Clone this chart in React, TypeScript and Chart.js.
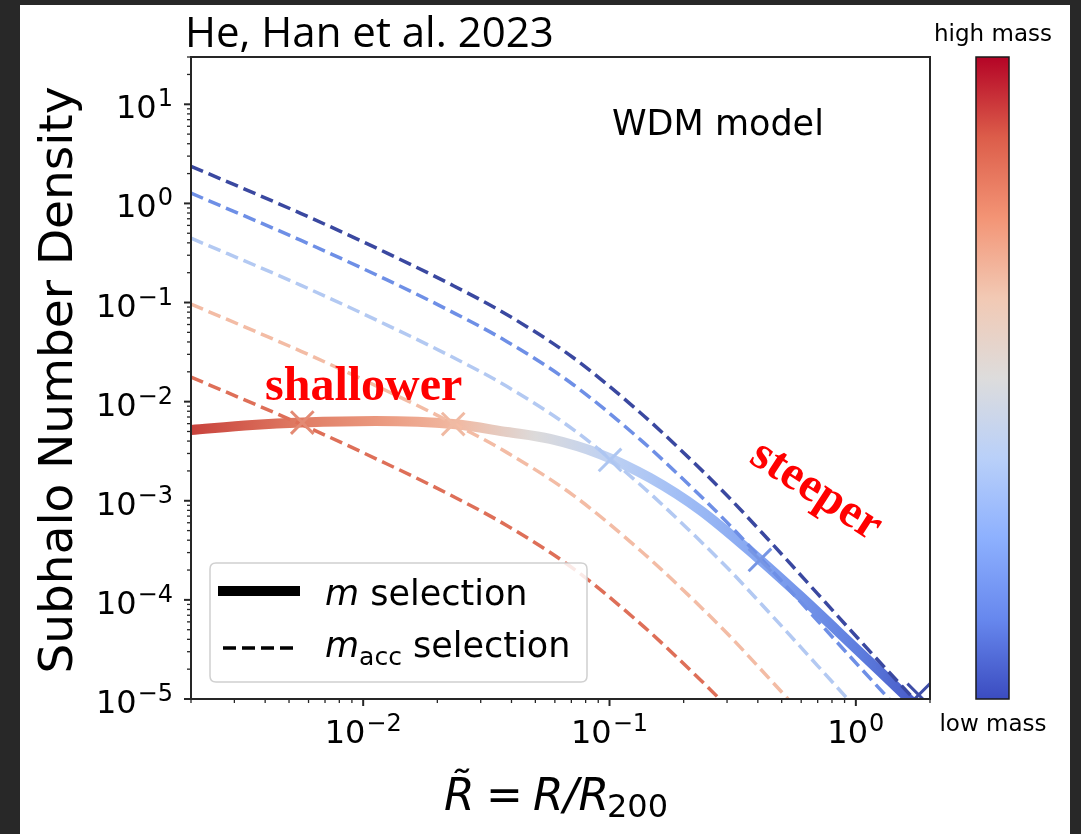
import { useEffect, useRef } from 'react';
import { Chart, registerables } from 'chart.js';

Chart.register(...registerables);

// Radial sample points (R / R200) shared by the m_acc-selected profiles
const maccRadius = [0.002, 0.0056, 0.0125, 0.0225, 0.0384, 0.0711, 0.133, 0.188, 0.3, 0.448, 0.7, 1.04, 1.73, 2.0];
// m_acc selection, lowest to highest mass bin
const maccLowest = [2.37, 0.79, 0.315, 0.154, 0.0753, 0.0279, 0.00778, 0.00353, 0.00113, 3.89e-4, 1.15e-4, 3.88e-5, 9.9e-6, 6.8e-6];
const maccLow = [1.27, 0.423, 0.169, 0.0824, 0.0403, 0.0149, 0.00416, 0.00189, 6.05e-4, 2.08e-4, 6.15e-5, 2.08e-5, 5.3e-6, 3.6e-6];
const maccMid = [0.446, 0.149, 0.0592, 0.029, 0.0142, 0.00525, 0.00146, 6.6e-4, 2.12e-4, 7.3e-5, 2.16e-5, 7.3e-6, 1.86e-6, 1.28e-6];
const maccHigh = [0.0965, 0.0322, 0.0128, 0.00627, 0.00306, 0.00114, 3.17e-4, 1.44e-4, 4.6e-5, 1.58e-5, 4.7e-6, 1.58e-6, 4.0e-7, 2.8e-7];
const maccHighest = [0.0177, 0.0059, 0.00235, 0.00115, 5.6e-4, 2.08e-4, 5.8e-5, 2.63e-5, 8.4e-6, 2.9e-6, 8.6e-7, 2.9e-7, 7.4e-8, 5.1e-8];
const maccSeries = [maccLowest, maccLow, maccMid, maccHigh, maccHighest];
const maccColors = ['#3a48a0', '#6e8fe6', '#b3c9f2', '#f3bca5', '#de6f58'];

// m selection profile (coloured by mass along the curve)
const mRadius = [0.002, 0.00355, 0.00566, 0.0112, 0.0232, 0.0384, 0.0574, 0.0914, 0.146, 0.233, 0.396, 0.593, 0.946, 1.656, 2.0];
const mDensity = [0.00518, 0.00581, 0.00615, 0.00637, 0.00594, 0.00494, 0.0042, 0.00296, 0.0017, 8.07e-4, 2.71e-4, 1.1e-4, 3.69e-5, 9.8e-6, 6.3e-6];
const mStops = [0.002, 0.0056, 0.0125, 0.024, 0.05, 0.1, 0.2, 0.4, 1.0, 1.8];
const mStopColors = ['#c8423c', '#e07c64', '#eb9c82', '#f1b9a2', '#dcdada', '#bed1f3', '#a0bdf5', '#85a6f1', '#5f7fdf', '#4658c6'];

// Crossing points of each m_acc profile with the m profile
const crossRadius = [0.00566, 0.0232, 0.1005, 0.408, 1.8];
const crossDensity = [0.00615, 0.00594, 0.00258, 2.53e-4, 1.1e-5];
const crossColors = ['#e38a74', '#f0baa3', '#aec6f1', '#7796e4', '#3e4da6'];

// Axis ranges and labelled ticks
const xRange = [0.002, 2];
const yRange = [1e-5, 30];
const xTickValues = [1e-2, 1e-1, 1];
const yTickValues = [1e-5, 1e-4, 1e-3, 1e-2, 1e-1, 1, 10];

// Colour bar (top = high mass, bottom = low mass)
const barColors = ['#b40426', '#dc5d4a', '#f39475', '#f2c9b4', '#dddcdc', '#b9d0f9', '#8db0fe', '#6788ee', '#3b4cc0'];

const DEJAVU = "'DejaVu Sans'";

// "10" with a raised exponent, as a power-of-ten tick label
function drawPower(ctx: CanvasRenderingContext2D, v: number, x: number, y: number, align: 'right' | 'center') {
  const exp = String(Math.round(Math.log10(v))).replace('-', '\u2212');
  ctx.font = `32px ${DEJAVU}`;
  const wb = ctx.measureText('10').width;
  ctx.font = `24px ${DEJAVU}`;
  const we = ctx.measureText(exp).width;
  const total = wb + 1 + we;
  const x0 = align === 'right' ? x - total : x - total / 2;
  ctx.textAlign = 'left';
  ctx.textBaseline = 'alphabetic';
  ctx.font = `32px ${DEJAVU}`;
  ctx.fillText('10', x0, y);
  ctx.font = `24px ${DEJAVU}`;
  ctx.fillText(exp, x0 + wb + 1, y - 12);
}

const decorPlugin = {
  id: 'decor',
  afterDraw(chart: any) {
    const { ctx, chartArea: a, scales } = chart;
    const xs = scales.x;
    const ys = scales.y;
    ctx.save();

    // minor / major tick marks pointing outward
    ctx.strokeStyle = '#262626';
    for (let d = -3; d <= 1; d++) {
      for (let k = 1; k <= 9; k++) {
        const v = k * Math.pow(10, d);
        if (v < xRange[0] * 0.9999 || v > xRange[1] * 1.0001) continue;
        const p = xs.getPixelForValue(v);
        const major = k === 1;
        ctx.lineWidth = major ? 2 : 1.3;
        ctx.beginPath();
        ctx.moveTo(p, a.bottom);
        ctx.lineTo(p, a.bottom + (major ? 7 : 4));
        ctx.stroke();
      }
    }
    for (let d = -5; d <= 1; d++) {
      for (let k = 1; k <= 9; k++) {
        const v = k * Math.pow(10, d);
        if (v < yRange[0] * 0.9999 || v > yRange[1] * 1.0001) continue;
        const p = ys.getPixelForValue(v);
        const major = k === 1;
        ctx.lineWidth = major ? 2 : 1.3;
        ctx.beginPath();
        ctx.moveTo(a.left, p);
        ctx.lineTo(a.left - (major ? 7 : 4), p);
        ctx.stroke();
      }
    }

    // tick labels from the scales' own ticks
    ctx.fillStyle = '#000';
    xs.ticks.forEach((t: any) => drawPower(ctx, t.value, xs.getPixelForValue(t.value), a.bottom + 44, 'center'));
    ys.ticks.forEach((t: any) => drawPower(ctx, t.value, a.left - 18, ys.getPixelForValue(t.value) + 14, 'right'));

    // plot frame
    ctx.lineWidth = 2;
    ctx.strokeRect(a.left, a.top, a.right - a.left, a.bottom - a.top);

    // legend
    const lx = 190, ly = 558, lw = 377, lh = 119, r = 6;
    ctx.beginPath();
    ctx.moveTo(lx + r, ly);
    ctx.lineTo(lx + lw - r, ly);
    ctx.quadraticCurveTo(lx + lw, ly, lx + lw, ly + r);
    ctx.lineTo(lx + lw, ly + lh - r);
    ctx.quadraticCurveTo(lx + lw, ly + lh, lx + lw - r, ly + lh);
    ctx.lineTo(lx + r, ly + lh);
    ctx.quadraticCurveTo(lx, ly + lh, lx, ly + lh - r);
    ctx.lineTo(lx, ly + r);
    ctx.quadraticCurveTo(lx, ly, lx + r, ly);
    ctx.closePath();
    ctx.fillStyle = 'rgba(255,255,255,0.85)';
    ctx.fill();
    ctx.strokeStyle = '#d0d0d0';
    ctx.lineWidth = 1.5;
    ctx.stroke();

    ctx.strokeStyle = '#000';
    ctx.lineCap = 'butt';
    ctx.lineWidth = 10;
    ctx.beginPath();
    ctx.moveTo(198, 586);
    ctx.lineTo(280, 586);
    ctx.stroke();
    ctx.lineWidth = 3.5;
    ctx.setLineDash([13, 6]);
    ctx.beginPath();
    ctx.moveTo(203, 643);
    ctx.lineTo(273, 643);
    ctx.stroke();
    ctx.setLineDash([]);

    ctx.fillStyle = '#000';
    ctx.textBaseline = 'alphabetic';
    ctx.textAlign = 'left';
    ctx.font = `italic 35px ${DEJAVU}`;
    ctx.fillText('m', 305, 600);
    let w = ctx.measureText('m').width;
    ctx.font = `35px ${DEJAVU}`;
    ctx.fillText(' selection', 305 + w, 600);

    ctx.font = `italic 35px ${DEJAVU}`;
    ctx.fillText('m', 305, 652);
    w = ctx.measureText('m').width;
    ctx.font = `25px ${DEJAVU}`;
    ctx.fillText('acc', 305 + w, 660);
    const w2 = ctx.measureText('acc').width;
    ctx.font = `35px ${DEJAVU}`;
    ctx.fillText(' selection', 305 + w + w2, 652);

    // annotations
    ctx.font = "42px 'Open Sans'";
    ctx.fillText('He, Han et al. 2023', 165, 42);
    ctx.font = `35px ${DEJAVU}`;
    ctx.fillText('WDM model', 592, 130);

    ctx.fillStyle = '#ff0000';
    ctx.font = "bold 48px 'Liberation Serif'";
    ctx.fillText('shallower', 245, 395);
    ctx.save();
    ctx.translate(796, 486);
    ctx.rotate((33 * Math.PI) / 180);
    ctx.textAlign = 'center';
    ctx.textBaseline = 'middle';
    ctx.fillText('steeper', 0, 0);
    ctx.restore();

    // axis titles
    ctx.fillStyle = '#000';
    ctx.save();
    ctx.translate(52, 375);
    ctx.rotate(-Math.PI / 2);
    ctx.textAlign = 'center';
    ctx.font = `47px ${DEJAVU}`;
    ctx.fillText('Subhalo Number Density', 0, 0);
    ctx.restore();

    ctx.textAlign = 'left';
    ctx.font = `italic 44px ${DEJAVU}`;
    ctx.fillText('R\u0303', 424, 805);
    ctx.font = `44px ${DEJAVU}`;
    ctx.fillText('=', 466, 805);
    ctx.font = `italic 44px ${DEJAVU}`;
    ctx.fillText('R/R', 513, 805);
    const rw = ctx.measureText('R/R').width;
    ctx.font = `32px ${DEJAVU}`;
    ctx.fillText('200', 513 + rw - 2, 812);

    // colour bar
    const bx = 956, by = 52, bw = 33, bh = 642;
    const g = ctx.createLinearGradient(0, by, 0, by + bh);
    barColors.forEach((c, i) => g.addColorStop(i / (barColors.length - 1), c));
    ctx.fillStyle = g;
    ctx.fillRect(bx, by, bw, bh);
    ctx.strokeStyle = '#1a1a1a';
    ctx.lineWidth = 1.5;
    ctx.strokeRect(bx, by, bw, bh);
    ctx.fillStyle = '#000';
    ctx.textAlign = 'center';
    ctx.font = `23px ${DEJAVU}`;
    ctx.fillText('high mass', 973, 36);
    ctx.fillText('low mass', 973, 726);

    ctx.restore();
  },
};

export default function App() {
  const canvasRef = useRef<HTMLCanvasElement | null>(null);

  useEffect(() => {
    const canvas = canvasRef.current;
    if (!canvas) return;

    const mGradient = (c: any) => {
      const chart = c.chart;
      const area = chart.chartArea;
      if (!area) return mStopColors[0];
      const xs = chart.scales.x;
      const grad = chart.ctx.createLinearGradient(area.left, 0, area.right, 0);
      mStops.forEach((v, i) => {
        const t = (xs.getPixelForValue(v) - area.left) / (area.right - area.left);
        grad.addColorStop(Math.min(1, Math.max(0, t)), mStopColors[i]);
      });
      return grad;
    };

    const dashed = maccSeries.map((series, i) => ({
      label: `m_acc bin ${i + 1}`,
      data: maccRadius.map((x, j) => ({ x, y: series[j] })),
      borderColor: maccColors[i],
      borderWidth: 3.5,
      borderDash: [13, 6],
      pointRadius: 0,
      cubicInterpolationMode: 'monotone' as const,
      clip: 0,
      order: 1,
    }));

    const chart = new Chart(canvas, {
      type: 'line',
      data: {
        datasets: [
          {
            label: 'crossings',
            data: crossRadius.map((x, j) => ({ x, y: crossDensity[j] })),
            showLine: false,
            pointStyle: 'crossRot',
            pointRadius: 16,
            pointBorderWidth: 3,
            pointBorderColor: crossColors,
            pointBackgroundColor: crossColors,
            clip: 0,
            order: 0,
          },
          ...dashed,
          {
            label: 'm selection',
            data: mRadius.map((x, j) => ({ x, y: mDensity[j] })),
            borderColor: mGradient,
            borderWidth: 10,
            borderCapStyle: 'butt',
            pointRadius: 0,
            cubicInterpolationMode: 'monotone',
            clip: 0,
            order: 2,
          },
        ] as any,
      },
      options: {
        animation: false,
        responsive: false,
        devicePixelRatio: 1,
        events: [],
        layout: { padding: { left: 0, top: 52, right: 140, bottom: 0 }, autoPadding: false },
        plugins: { legend: { display: false }, tooltip: { enabled: false }, title: { display: false } },
        scales: {
          x: {
            type: 'logarithmic',
            min: xRange[0],
            max: xRange[1],
            bounds: 'data',
            afterBuildTicks: (s: any) => {
              s.ticks = xTickValues.map((value) => ({ value }));
            },
            afterFit: (s: any) => {
              s.height = 135;
            },
            grid: { display: false, drawTicks: false },
            border: { display: true, color: '#262626', width: 2 },
            ticks: { display: false, autoSkip: false, maxRotation: 0 },
          },
          y: {
            type: 'logarithmic',
            min: yRange[0],
            max: yRange[1],
            bounds: 'data',
            afterBuildTicks: (s: any) => {
              s.ticks = yTickValues.map((value) => ({ value }));
            },
            afterFit: (s: any) => {
              s.width = 171;
            },
            grid: { display: false, drawTicks: false },
            border: { display: true, color: '#262626', width: 2 },
            ticks: { display: false, autoSkip: false },
          },
        },
      } as any,
      plugins: [decorPlugin],
    });

    return () => chart.destroy();
  }, []);

  return (
    <div
      style={{
        position: 'fixed',
        left: 0,
        top: 0,
        width: 1081,
        height: 834,
        background: '#282828',
        overflow: 'hidden',
      }}
    >
      <div style={{ position: 'absolute', left: 20, top: 5, width: 1050, height: 829, background: '#fff' }}>
        <canvas ref={canvasRef} width={1050} height={829} style={{ display: 'block' }} />
      </div>
    </div>
  );
}
